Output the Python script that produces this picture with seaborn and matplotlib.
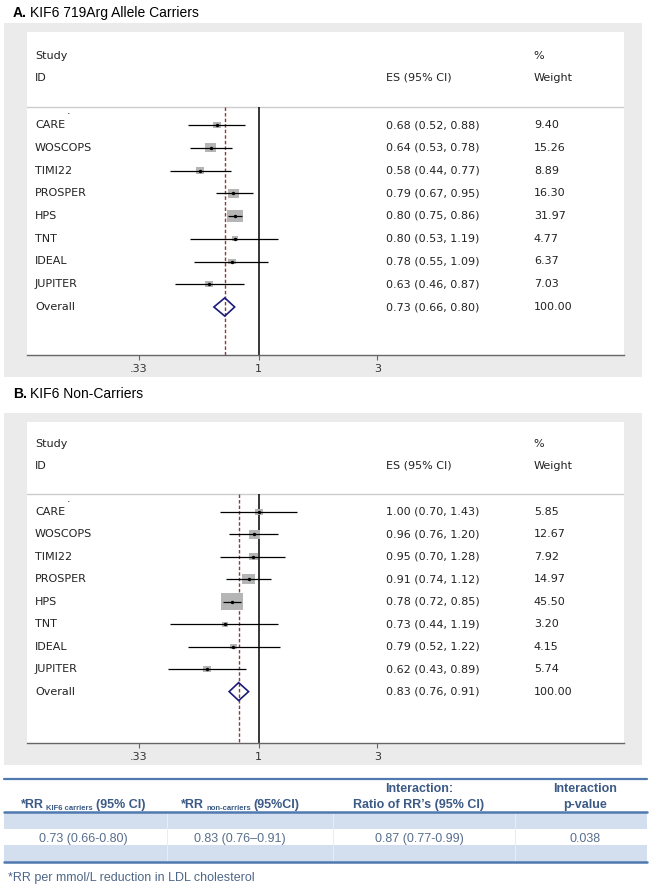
import matplotlib
matplotlib.use("Agg")
import numpy as np
import pandas as pd
import seaborn as sns
import matplotlib.pyplot as plt
from matplotlib.patches import Rectangle
from matplotlib.lines import Line2D
from matplotlib.ticker import NullLocator
from matplotlib.transforms import blended_transform_factory, IdentityTransform

# ---- data ----
studies = ["CARE", "WOSCOPS", "TIMI22", "PROSPER", "HPS", "TNT", "IDEAL", "JUPITER"]

carriers_es = [0.68, 0.64, 0.58, 0.79, 0.80, 0.80, 0.78, 0.63]
carriers_lo = [0.52, 0.53, 0.44, 0.67, 0.75, 0.53, 0.55, 0.46]
carriers_hi = [0.88, 0.78, 0.77, 0.95, 0.86, 1.19, 1.09, 0.87]
carriers_wt = [9.40, 15.26, 8.89, 16.30, 31.97, 4.77, 6.37, 7.03]
carriers_overall = (0.73, 0.66, 0.80)

noncarriers_es = [1.00, 0.96, 0.95, 0.91, 0.78, 0.73, 0.79, 0.62]
noncarriers_lo = [0.70, 0.76, 0.70, 0.74, 0.72, 0.44, 0.52, 0.43]
noncarriers_hi = [1.43, 1.20, 1.28, 1.12, 0.85, 1.19, 1.22, 0.89]
noncarriers_wt = [5.85, 12.67, 7.92, 14.97, 45.50, 3.20, 4.15, 5.74]
noncarriers_overall = (0.83, 0.76, 0.91)

x_ticks = [0.33, 1, 3]
x_ticklabels = [".33", "1", "3"]

table_values = ["0.73 (0.66-0.80)", "0.83 (0.76\u20130.91)", "0.87 (0.77-0.99)", "0.038"]
footnote = "*RR per mmol/L reduction in LDL cholesterol"

# ---- figure setup ----
W, H = 651, 889
sns.set_style("white")
plt.rcParams["font.family"] = ["DejaVu Sans"]
fig = plt.figure(figsize=(W / 100, H / 100), dpi=100)
fig.patch.set_facecolor("white")

GRAY = "#ebebeb"
TXT = "#222222"
HEAD_BLUE = "#3b5a85"
VAL_BLUE = "#586f8e"
LINE_BLUE = "#5079b0"
BAND = "#d3dfee"

RECT = [(-1, -0.8), (1, -0.8), (1, 0.8), (-1, 0.8)]
SEP = -0.79


def fx(px):
    return px / W


def fy(py):
    return 1 - py / H


def put_parts(parts, x_px, base_px, ha="left", color=TXT, family="Liberation Sans"):
    """parts: (text, size, weight, drop_px, gap_px_before)"""
    renderer = fig.canvas.get_renderer()
    arts = []
    for s, size, weight, drop, gap in parts:
        t = fig.text(0, 0, s, fontsize=size, fontweight=weight, color=color,
                     family=family, va="baseline", ha="left",
                     transform=IdentityTransform())
        arts.append((t, drop, gap, t.get_window_extent(renderer).width))
    total = sum(w + g for _, _, g, w in arts)
    x0 = x_px - total / 2 if ha == "center" else x_px
    for t, drop, gap, w in arts:
        x0 += gap
        t.set_position((x0, H - base_px - drop))
        x0 += w


def draw_panel(gray_top, white_top, axis_y, first_row, step,
               es, lo, hi, wt, overall, box_scale):
    # gray graph region
    gray_bot = axis_y + 22
    fig.add_artist(Rectangle((fx(4), fy(gray_bot)), fx(642) - fx(4),
                             (gray_bot - gray_top) / H,
                             transform=fig.transFigure, facecolor=GRAY,
                             edgecolor="none", zorder=0))
    ax = fig.add_axes([fx(27), fy(axis_y), (624 - 27) / W, (axis_y - white_top) / H])
    ax.set_facecolor("white")
    ax.set_zorder(1)

    df = pd.DataFrame({"study": studies, "es": es, "lo": lo, "hi": hi,
                       "weight": wt, "row": np.arange(len(studies))})
    o_es, o_lo, o_hi = overall
    o_row = len(studies)

    ylim = ((axis_y - first_row) / step, (white_top - first_row) / step)
    ax.set_xscale("log")
    ax.set_xlim(0.117, 29.4)
    ax.set_ylim(*ylim)

    ax.axhline(SEP, color="#cccccc", lw=1, zorder=1)
    ax.vlines(1, SEP, ylim[0], color="black", lw=1.1, zorder=1)
    ax.vlines(o_es, SEP, ylim[0], color="#8a3b3b", lw=1,
              linestyles=(0, (2.5, 1.5)), zorder=1)

    sns.scatterplot(data=df, x="es", y="row", s=df["weight"] * box_scale,
                    marker=RECT, color="#b5b5b5", linewidth=0, zorder=2,
                    legend=False, ax=ax)
    ax.hlines(df["row"], df["lo"], df["hi"], color="black", lw=0.9, zorder=3)
    sns.scatterplot(data=df, x="es", y="row", s=6, marker="o", color="black",
                    linewidth=0, zorder=4, legend=False, ax=ax)
    ax.fill([o_lo, o_es, o_hi, o_es], [o_row, o_row - 0.4, o_row, o_row + 0.4],
            facecolor="none", edgecolor="#1c1c78", lw=1.2, zorder=5)

    tr = blended_transform_factory(ax.transAxes, ax.transData)
    kw = dict(transform=tr, fontsize=8, color=TXT, va="center", ha="left")
    ax.text(0.0134, -3.03, "Study", **kw)
    ax.text(0.0134, -2.07, "ID", **kw)
    ax.text(0.601, -2.07, "ES (95% CI)", **kw)
    ax.text(0.849, -3.03, "%", **kw)
    ax.text(0.849, -2.07, "Weight", **kw)
    ax.text(0.067, -0.6, ".", **kw)
    for r in df.itertuples():
        ax.text(0.0134, r.row, r.study, **kw)
        ax.text(0.601, r.row, f"{r.es:.2f} ({r.lo:.2f}, {r.hi:.2f})", **kw)
        ax.text(0.849, r.row, f"{r.weight:.2f}", **kw)
    ax.text(0.0134, o_row, "Overall", **kw)
    ax.text(0.601, o_row, f"{o_es:.2f} ({o_lo:.2f}, {o_hi:.2f})", **kw)
    ax.text(0.849, o_row, "100.00", **kw)

    ax.set_xticks(x_ticks)
    ax.set_xticklabels(x_ticklabels)
    ax.xaxis.set_minor_locator(NullLocator())
    ax.set_yticks([])
    ax.set_xlabel("")
    ax.set_ylabel("")
    for s in ["top", "right", "left"]:
        ax.spines[s].set_visible(False)
    ax.spines["bottom"].set_color("#666666")
    ax.spines["bottom"].set_linewidth(1)
    ax.tick_params(axis="x", length=3.6, width=0.8, color="#666666",
                   labelsize=8, labelcolor="#333333", pad=3, direction="out",
                   bottom=True)
    return ax


draw_panel(23, 32, 355, 125, 22.75, carriers_es, carriers_lo, carriers_hi,
           carriers_wt, carriers_overall, 4.2)
draw_panel(413, 422, 743, 512, 22.45, noncarriers_es, noncarriers_lo, noncarriers_hi,
           noncarriers_wt, noncarriers_overall, 5.2)

# panel titles
put_parts([("A.", 10, "bold", 0, 0), ("KIF6 719Arg Allele Carriers", 10, "normal", 0, 3.4)],
          13, 17, color="black")
put_parts([("B.", 10, "bold", 0, 0), ("KIF6 Non-Carriers", 10, "normal", 0, 3.4)],
          13, 398, color="black")

# ---- summary table ----
def hline(y, lw=1.8):
    fig.add_artist(Line2D([fx(4), fx(647)], [fy(y), fy(y)], transform=fig.transFigure,
                          color=LINE_BLUE, lw=lw, zorder=3))


for y0, y1 in [(812, 829), (845, 862)]:
    fig.add_artist(Rectangle((fx(4), fy(y1)), fx(647) - fx(4), (y1 - y0) / H,
                             transform=fig.transFigure, facecolor=BAND,
                             edgecolor="none", zorder=1))
for xv in [167, 333, 515]:
    fig.add_artist(Line2D([fx(xv), fx(xv)], [fy(812), fy(862)], transform=fig.transFigure,
                          color="#e6edf6", lw=0.8, zorder=2))
hline(779, 1.6)
hline(812, 1.8)
hline(862, 1.8)

col_x = [83, 240, 419, 585]
put_parts([("*RR", 9, "bold", 0, 0), ("KIF6 carriers", 5.5, "bold", 1.5, 2.5),
           ("(95% CI)", 9, "bold", 0, 2.5)], col_x[0], 808, ha="center", color=HEAD_BLUE)
put_parts([("*RR", 9, "bold", 0, 0), ("non-carriers", 5.5, "bold", 1.5, 2.5),
           ("(95%CI)", 9, "bold", 0, 2.5)], col_x[1], 808, ha="center", color=HEAD_BLUE)
put_parts([("Interaction:", 9, "bold", 0, 0)], col_x[2], 792, ha="center", color=HEAD_BLUE)
put_parts([("Ratio of RR\u2019s (95% CI)", 9, "bold", 0, 0)], col_x[2], 808, ha="center",
          color=HEAD_BLUE)
put_parts([("Interaction", 9, "bold", 0, 0)], col_x[3], 792, ha="center", color=HEAD_BLUE)
put_parts([("p-value", 9, "bold", 0, 0)], col_x[3], 808, ha="center", color=HEAD_BLUE)

for xc, val in zip(col_x, table_values):
    put_parts([(val, 9, "normal", 0, 0)], xc, 842, ha="center", color=VAL_BLUE)

put_parts([(footnote, 9, "normal", 0, 0)], 8, 881, color="#4d6687")

fig.savefig("out.png", dpi=100)
